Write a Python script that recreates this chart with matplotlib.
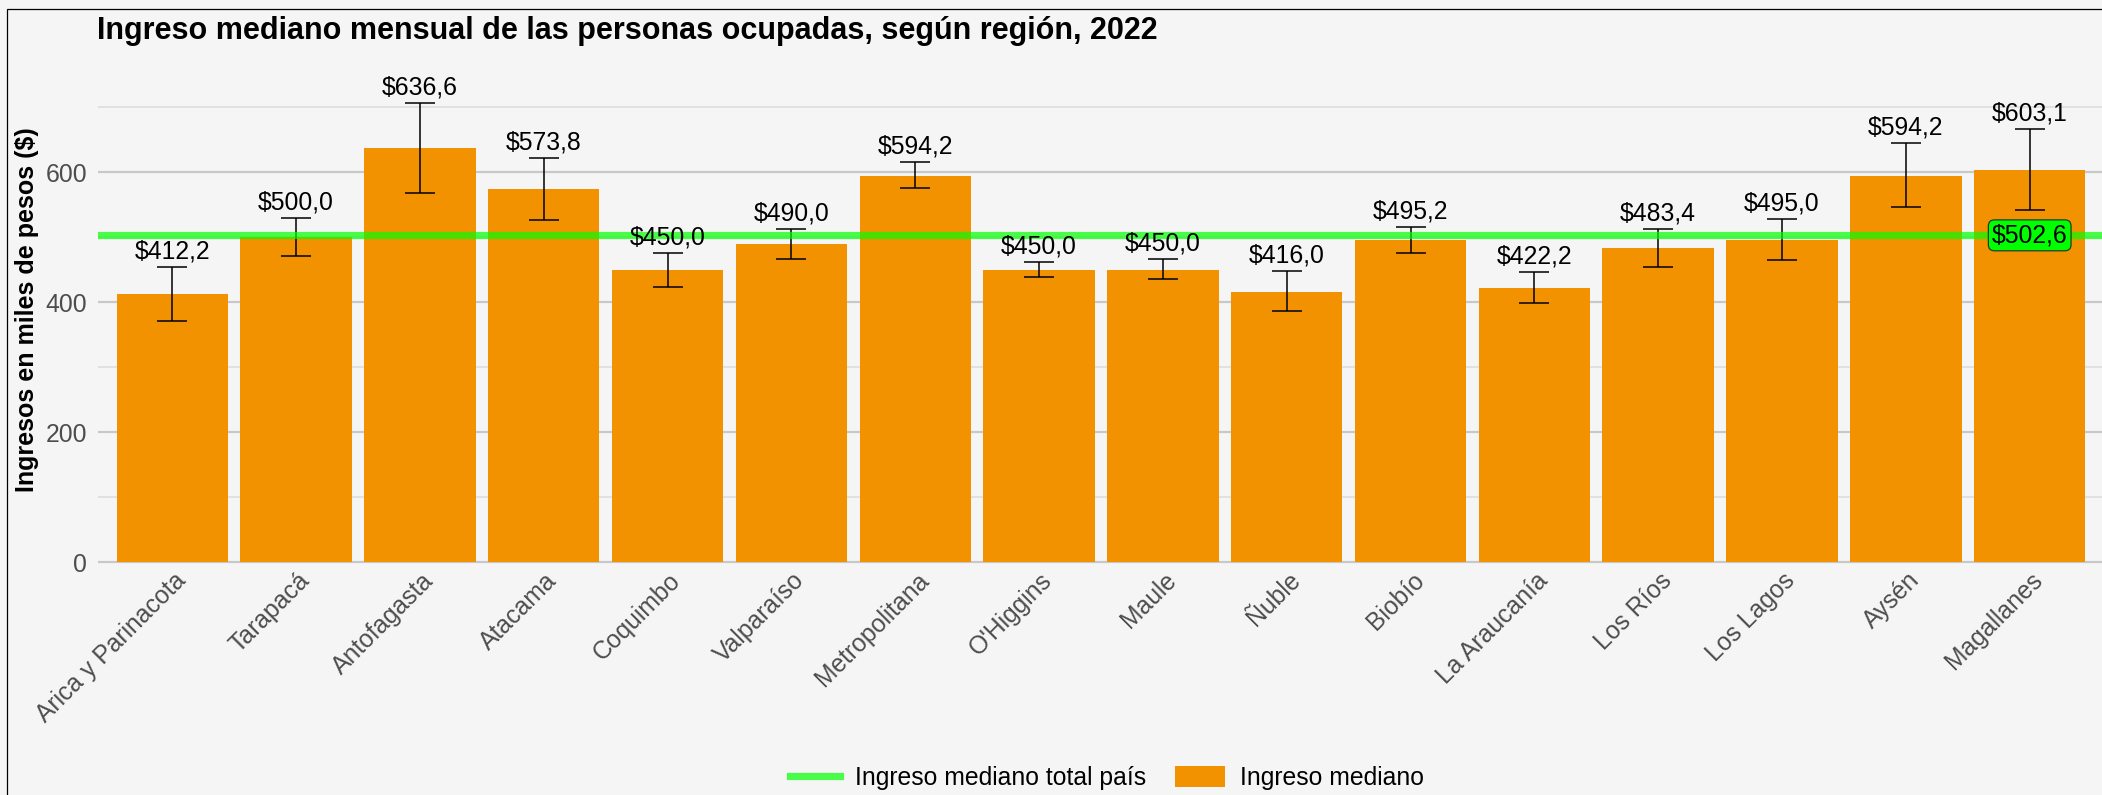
import matplotlib
matplotlib.use("Agg")
import matplotlib.pyplot as plt
import matplotlib.transforms as mtransforms
from matplotlib.lines import Line2D
from matplotlib.patches import Patch, Rectangle
import numpy as np

regiones = ["Arica y Parinacota", "Tarapacá", "Antofagasta", "Atacama", "Coquimbo",
            "Valparaíso", "Metropolitana", "O'Higgins", "Maule", "Ñuble", "Biobío",
            "La Araucanía", "Los Ríos", "Los Lagos", "Aysén", "Magallanes"]
ingreso = [412.2, 500.0, 636.6, 573.8, 450.0, 490.0, 594.2, 450.0, 450.0, 416.0,
           495.2, 422.2, 483.4, 495.0, 594.2, 603.1]
li = [371, 471, 567, 526, 423, 466, 575, 438, 435, 386, 476, 398, 454, 464, 546, 541]
ls = [454, 530, 706, 622, 476, 513, 615, 462, 466, 447, 515, 446, 513, 527, 644, 666]
total_pais = 502.6
yticks = [0, 200, 400, 600]

plt.rcParams['font.family'] = ['Liberation Sans', 'DejaVu Sans']
plt.rcParams['text.parse_math'] = False

W, H = 2102, 795
fig = plt.figure(figsize=(W / 100, H / 100), dpi=100)
bg = "#f5f5f5"
fig.patch.set_facecolor(bg)

left_px, right_px, top_px, bot_px = 98, 2104, 55, 564
ax = fig.add_axes([left_px / W, 1 - bot_px / H, (right_px - left_px) / W, (bot_px - top_px) / H])
ax.set_facecolor(bg)

FS = 17.8
x = np.arange(len(regiones))
ingreso_arr = np.array(ingreso)
yerr = np.vstack([ingreso_arr - np.array(li), np.array(ls) - ingreso_arr])

ax.bar(x, ingreso, width=0.9, color="#F39200", zorder=2)
ax.errorbar(x, ingreso, yerr=yerr, fmt="none", ecolor="black", elinewidth=1.1,
            capsize=11, capthick=1.1, zorder=3)
ax.axhline(total_pais, color="#00ff00", alpha=0.7, lw=5.2, zorder=4)

for xi, v, top in zip(x, ingreso, ls):
    ax.annotate(f"${v:.1f}".replace(".", ","), (xi, top), xytext=(0, 2.5),
                textcoords="offset points", ha="center", va="bottom",
                fontsize=FS, color="black", zorder=5)

ax.text(x[-1], total_pais, f"${total_pais:.1f}".replace(".", ","), ha="center",
        va="center", fontsize=FS, color="black", zorder=6,
        bbox=dict(boxstyle="round,pad=0.14,rounding_size=0.25", fc="#00ff00",
                  ec="#1f3f1f", lw=0.9))

ax.set_xlim(-0.6, 15.6)
ax.set_ylim(-3, 780)
ax.set_yticks(yticks)
ax.set_yticks([100, 300, 500, 700], minor=True)
ax.grid(axis="y", which="major", color="#c8c8c8", lw=1.6, zorder=0)
ax.grid(axis="y", which="minor", color="#dcdcdc", lw=1.1, zorder=0)
ax.set_axisbelow(True)
ax.tick_params(axis="y", which="both", length=0, labelsize=FS, labelcolor="#4d4d4d", pad=8)
ax.tick_params(axis="x", length=0, labelsize=FS, labelcolor="#4d4d4d", pad=3)
ax.set_xticks(x)
ax.set_xticklabels(regiones, rotation=45, ha="right", rotation_mode="anchor")
offset = mtransforms.ScaledTranslation(1 / 100, 0, fig.dpi_scale_trans)
for lab in ax.get_xticklabels():
    lab.set_transform(lab.get_transform() + offset)
for s in ax.spines.values():
    s.set_visible(False)

fig.text(97 / W, 1 - 31 / H, "Ingreso mediano mensual de las personas ocupadas, según región, 2022",
         fontsize=22, fontweight="bold", ha="left", va="center")
fig.text(27.5 / W, 1 - 310 / H, "Ingresos en miles de pesos ($)", rotation=90,
         fontsize=18, fontweight="bold", ha="center", va="center")

handles = [Line2D([0], [0], color="#00ff00", alpha=0.7, lw=5.2),
           Patch(facecolor="#F39200")]
fig.legend(handles, ["Ingreso mediano total país", "Ingreso mediano"],
           loc="center", bbox_to_anchor=(1107 / W, 1 - 778 / H), ncol=2,
           frameon=False, fontsize=FS, handlelength=2.0, handleheight=0.9,
           columnspacing=1.2, handletextpad=0.6, borderpad=0.1)

fig.patches.append(Rectangle((7 / W, -0.05), 1.1, 1 - 9 / H + 0.05, transform=fig.transFigure,
                             fill=False, ec="black", lw=0.9, zorder=10))

fig.savefig("out.png", dpi=100, facecolor=fig.get_facecolor())
